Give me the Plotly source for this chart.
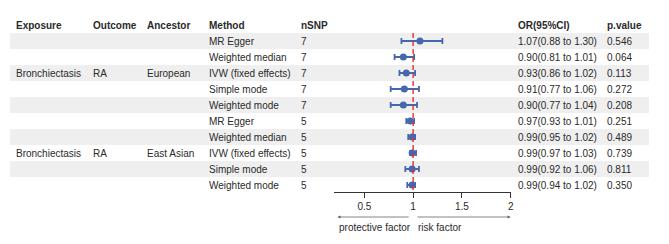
import plotly.graph_objects as go

exposure = ["", "", "Bronchiectasis", "", "", "", "", "Bronchiectasis", "", ""]
outcome = ["", "", "RA", "", "", "", "", "RA", "", ""]
ancestor = ["", "", "European", "", "", "", "", "East Asian", "", ""]
method = ["MR Egger", "Weighted median", "IVW (fixed effects)", "Simple mode", "Weighted mode",
          "MR Egger", "Weighted median", "IVW (fixed effects)", "Simple mode", "Weighted mode"]
nsnp = [7, 7, 7, 7, 7, 5, 5, 5, 5, 5]
or_val = [1.07, 0.90, 0.93, 0.91, 0.90, 0.97, 0.99, 0.99, 0.99, 0.99]
lo = [0.88, 0.81, 0.86, 0.77, 0.77, 0.93, 0.95, 0.97, 0.92, 0.94]
hi = [1.30, 1.01, 1.02, 1.06, 1.04, 1.01, 1.02, 1.03, 1.06, 1.02]
pval = ["0.546", "0.064", "0.113", "0.272", "0.208", "0.251", "0.489", "0.739", "0.811", "0.350"]
headers = ["Exposure", "Outcome", "Ancestor", "Method", "nSNP", "OR(95%CI)", "p.value"]
tick_vals = [0.5, 1, 1.5, 2]
tick_text = ["0.5", "1", "1.5", "2"]

# page body has an 8px margin; figure sized to fit inside the window
OFF = 8
FW, FH = 669 - 2 * OFF, 244 - 2 * OFF
rows = list(range(len(method)))
FONT = "Liberation Sans, Arial, sans-serif"
TXT = "#2a2a2a"
BLUE = "#4467ad"
ROW0 = 41 - OFF   # pixel centre of first row inside figure
PITCH = 16

def px(x):
    return (x - OFF) / FW

fig = go.Figure()

fig.add_trace(go.Scatter(
    x=or_val, y=rows, mode="markers",
    marker=dict(color=BLUE, size=7),
    error_x=dict(type="data", symmetric=False,
                 array=[h - o for h, o in zip(hi, or_val)],
                 arrayminus=[o - l for o, l in zip(or_val, lo)],
                 color=BLUE, thickness=1.8, width=3),
    showlegend=False, hoverinfo="skip"))

# shaded bands
for i in rows:
    if i % 2 == 0:
        fig.add_shape(type="rect", xref="paper", yref="y", x0=px(10), x1=px(652),
                      y0=i - 0.5, y1=i + 0.5, fillcolor="#efefef", line_width=0, layer="below")

axis_row = (192 - 41) / PITCH

# reference line at 1
fig.add_shape(type="line", xref="x", yref="y", x0=1, x1=1, y0=-0.5, y1=axis_row,
              line=dict(color="#e2302e", width=1.4, dash="5px,3px"))

col_x = [14, 91, 146, 208, 300, 518, 608]
for cx, h in zip(col_x, headers):
    fig.add_annotation(x=px(cx), y=-1.0, xref="paper", yref="y", text="<b>%s</b>" % h,
                       showarrow=False, xanchor="left", yanchor="middle",
                       font=dict(size=10, color=TXT, family=FONT))

for i in rows:
    vals = [exposure[i], outcome[i], ancestor[i], method[i], str(nsnp[i]),
            "%.2f(%.2f to %.2f)" % (or_val[i], lo[i], hi[i]), pval[i]]
    for cx, v in zip(col_x, vals):
        if v:
            fig.add_annotation(x=px(cx), y=i, xref="paper", yref="y", text=v,
                               showarrow=False, xanchor="left", yanchor="middle",
                               font=dict(size=10, color=TXT, family=FONT))

# arrows
fig.add_annotation(x=0.224, y=11, ax=0.97, ay=11, xref="x", yref="y", axref="x", ayref="y",
                   text="", showarrow=True, arrowhead=2, arrowsize=0.8, arrowwidth=0.8,
                   arrowcolor="#666666")
fig.add_annotation(x=2.0, y=11, ax=1.03, ay=11, xref="x", yref="y", axref="x", ayref="y",
                   text="", showarrow=True, arrowhead=2, arrowsize=0.8, arrowwidth=0.8,
                   arrowcolor="#666666")
fig.add_annotation(x=0.224, y=11.65, xref="x", yref="y", text="protective factor",
                   showarrow=False, xanchor="left", yanchor="middle",
                   font=dict(size=10, color=TXT, family=FONT))
fig.add_annotation(x=1.03, y=11.65, xref="x", yref="y", text="risk factor",
                   showarrow=False, xanchor="left", yanchor="middle",
                   font=dict(size=10, color=TXT, family=FONT))

fig.update_layout(
    width=FW, height=FH, margin=dict(l=0, r=0, t=0, b=0),
    paper_bgcolor="white", plot_bgcolor="rgba(0,0,0,0)",
    xaxis=dict(domain=[px(336), px(513)], range=[0.194, 2.0], anchor="free",
               position=1 - (192 - OFF) / FH, showgrid=False, zeroline=False,
               showline=True, linecolor="#333333", linewidth=1,
               ticks="outside", ticklen=5, tickcolor="#333333", tickwidth=1,
               tickvals=tick_vals, ticktext=tick_text,
               tickfont=dict(size=10, color=TXT, family=FONT)),
    yaxis=dict(range=[(FH - ROW0) / PITCH, -ROW0 / PITCH], visible=False, showgrid=False,
               zeroline=False, domain=[0, 1]),
)

fig.write_html("out.html")
